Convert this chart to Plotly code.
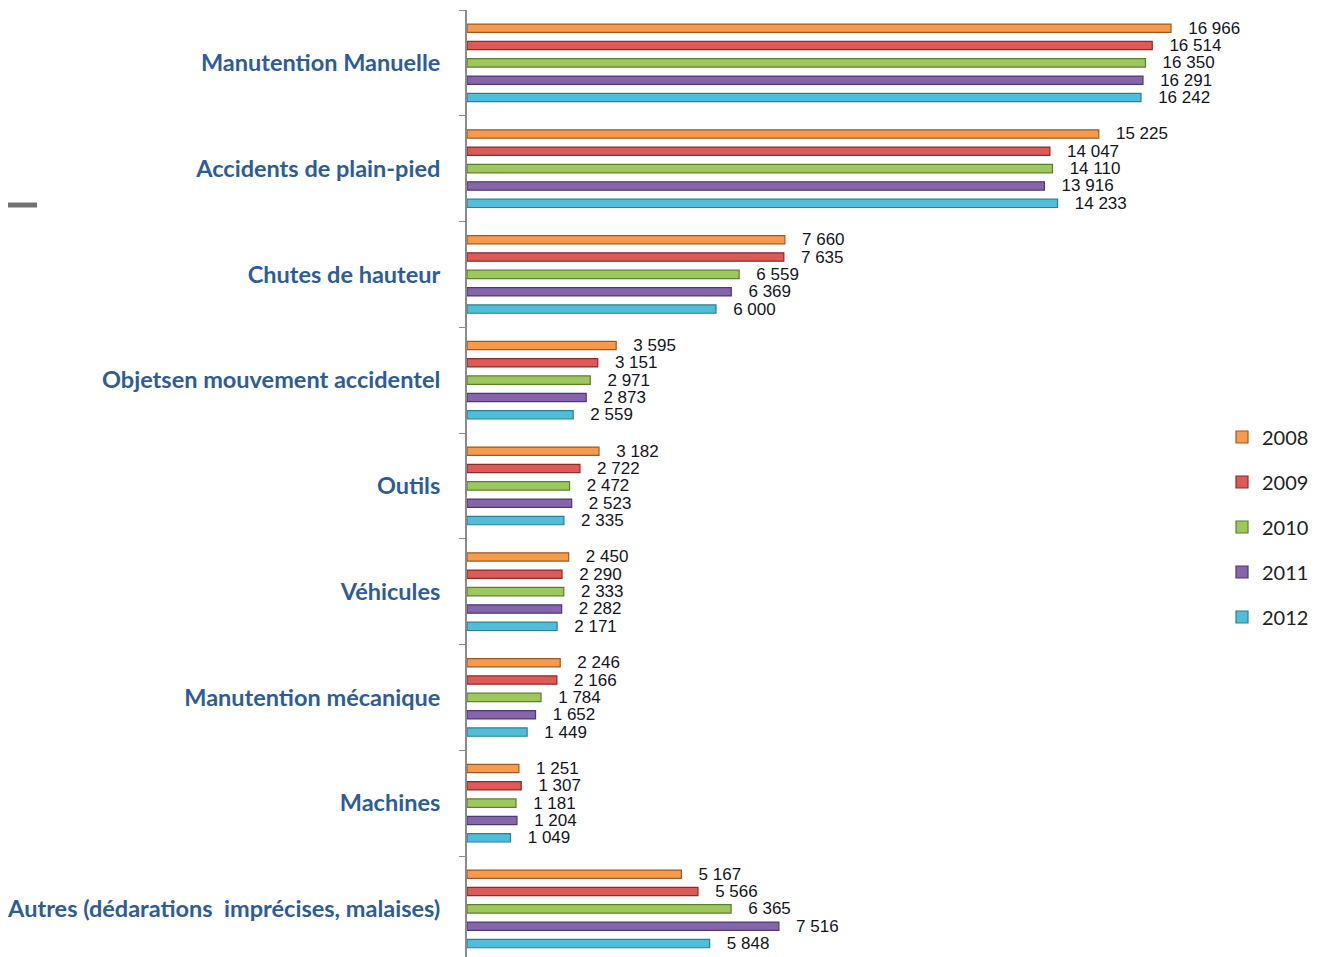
import plotly.graph_objects as go

categories = [
    "Manutention Manuelle",
    "Accidents de plain-pied",
    "Chutes de hauteur",
    "Objetsen mouvement accidentel",
    "Outils",
    "Véhicules",
    "Manutention mécanique",
    "Machines",
    "Autres (dédarations  imprécises, malaises)",
]
years = ["2008", "2009", "2010", "2011", "2012"]
v2008 = [16966, 15225, 7660, 3595, 3182, 2450, 2246, 1251, 5167]
v2009 = [16514, 14047, 7635, 3151, 2722, 2290, 2166, 1307, 5566]
v2010 = [16350, 14110, 6559, 2971, 2472, 2333, 1784, 1181, 6365]
v2011 = [16291, 13916, 6369, 2873, 2523, 2282, 1652, 1204, 7516]
v2012 = [16242, 14233, 6000, 2559, 2335, 2171, 1449, 1049, 5848]
series = [v2008, v2009, v2010, v2011, v2012]

fills = ["#F79A4C", "#DC5A58", "#9CC85C", "#8566AC", "#4EBED9"]
edges = ["#9A5A24", "#8E2A28", "#5C7F2E", "#4E3A72", "#2C7F94"]


def fmt(v):
    return "\u00a0\u00a0\u00a0" + f"{v:,}".replace(",", " ")


fig = go.Figure()
for name, vals, fc, ec in zip(years, series, fills, edges):
    fig.add_trace(go.Bar(
        y=categories,
        x=vals,
        name=name,
        orientation="h",
        legendgroup=name,
        marker=dict(color=fc, line=dict(color=ec, width=1.2)),
        text=[fmt(v) for v in vals],
        textposition="outside",
        constraintext="none",
        cliponaxis=False,
        textfont=dict(family="Liberation Sans, Arial", size=17, color="#14141e"),
    ))

# page has an 8px body offset; figure coordinates are page minus 8
off = 8
W, H = 1322 - 2 * off, 957 - off
plot_left = 467 - off
plot_right = 1222 - off
plot_top = 10 - off
px_per_unit = 704 / 16966
xmax = (plot_right - plot_left) / px_per_unit
plot_h = H - plot_top

fig.update_layout(
    width=W,
    height=H,
    margin=dict(l=plot_left, r=W - plot_right, t=plot_top, b=0, autoexpand=False),
    paper_bgcolor="white",
    plot_bgcolor="white",
    barmode="group",
    bargap=0.18,
    bargroupgap=0.52,
    showlegend=True,
    legend=dict(
        x=1.0, xanchor="left", y=(H - (527 - off)) / plot_h, yanchor="middle",
        font=dict(family="Lato, Liberation Sans", size=20, color="#222"),
        tracegroupgap=16,
        itemwidth=30,
        bgcolor="rgba(0,0,0,0)",
    ),
    xaxis=dict(
        range=[0, xmax],
        showgrid=False,
        zeroline=False,
        showticklabels=False,
        showline=False,
        ticks="",
    ),
    yaxis=dict(
        autorange=False,
        range=[8.455, -0.5],
        showgrid=False,
        showline=True,
        linecolor="#8a8a8a",
        linewidth=2,
        ticks="outside",
        tickson="boundaries",
        ticklen=6,
        tickcolor="#8a8a8a",
        tickfont=dict(family="Lato, Liberation Sans", size=23.5, color="#2E5C96", weight="bold"),
        ticklabelstandoff=20,
        automargin=False,
    ),
    shapes=[dict(
        type="line", xref="paper", yref="paper",
        x0=-plot_left / (plot_right - plot_left), x1=(37 - off - plot_left) / (plot_right - plot_left),
        y0=(H - (205 - off)) / plot_h, y1=(H - (205 - off)) / plot_h,
        line=dict(color="#707070", width=5),
    )],
)

fig.write_html("out.html")
